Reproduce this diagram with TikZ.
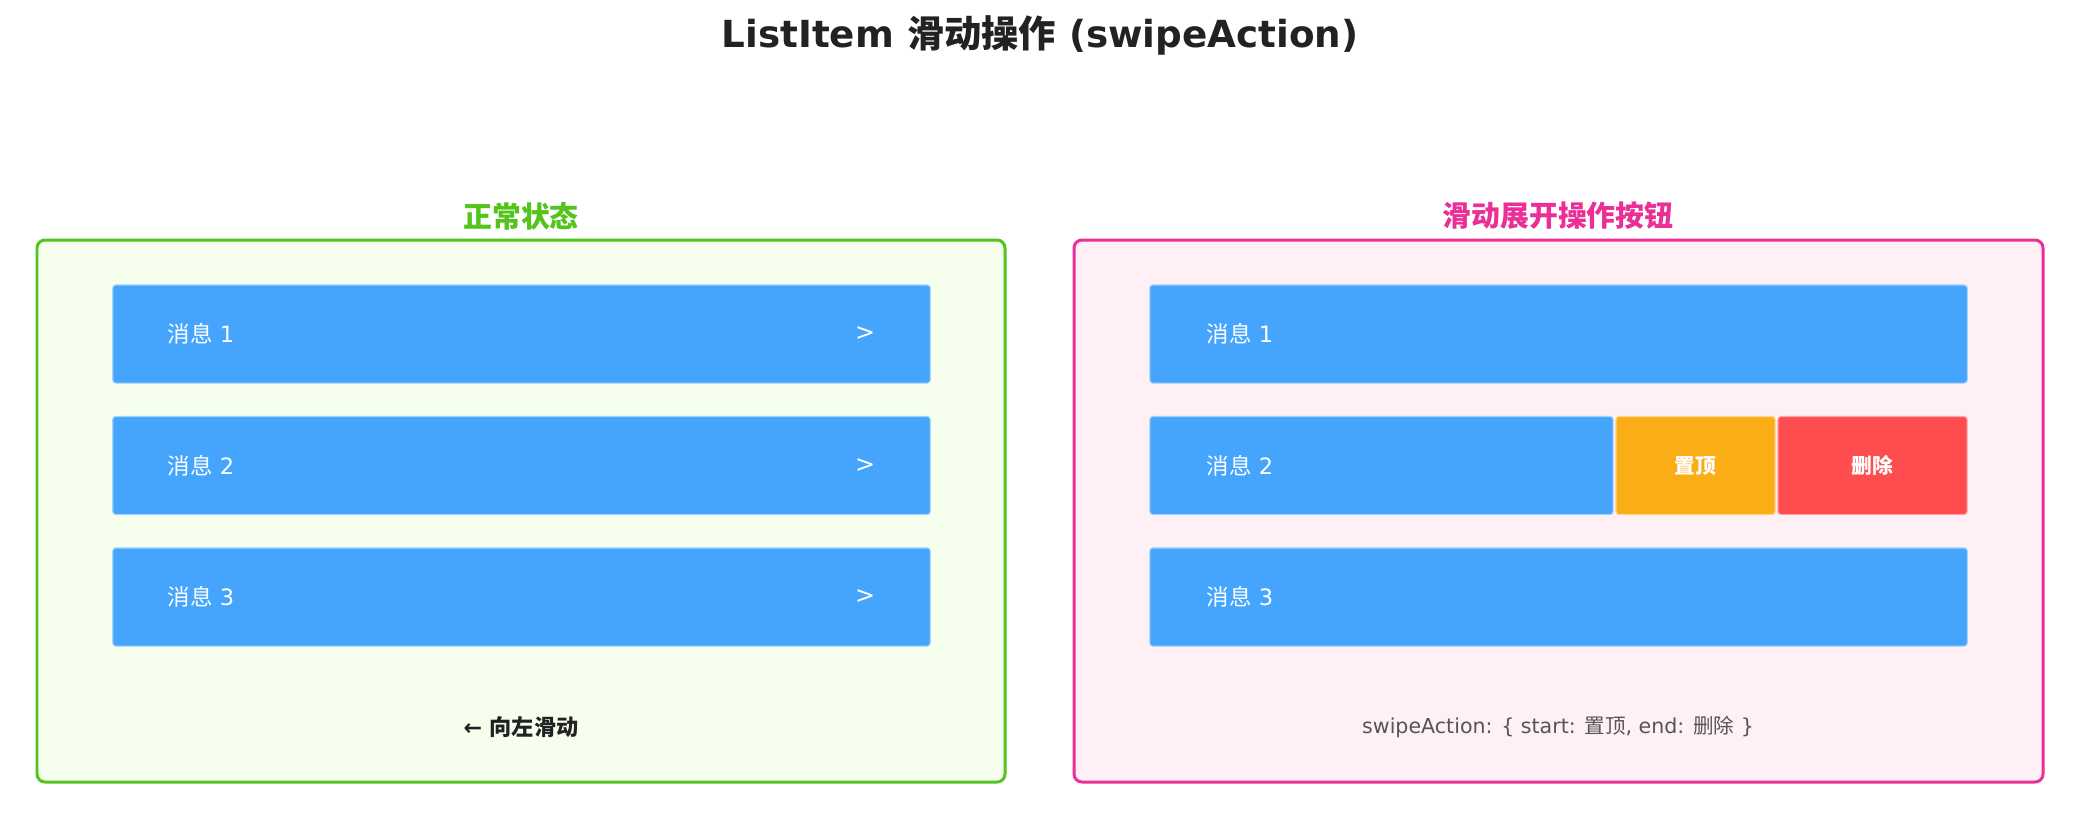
\documentclass[tikz,border=0pt]{standalone}
\usepackage{fontspec}
\setmainfont{DejaVu Sans}
\newfontfamily\cjk{Noto Sans CJK SC}
\definecolor{titlegray}{HTML}{222222}
\definecolor{notegray}{HTML}{555555}
\definecolor{okgreen}{HTML}{52C41A}
\definecolor{okfill}{HTML}{F6FFED}
\definecolor{swpink}{HTML}{EB2F96}
\definecolor{swfill}{HTML}{FFF0F6}
\definecolor{rowblue}{HTML}{45A5FC}
\definecolor{topyellow}{HTML}{FAAD14}
\definecolor{delred}{HTML}{FF4D4F}

\begin{document}
\begin{tikzpicture}[x=0.01cm,y=-0.01cm,
  panel/.style={rounded corners=0.08cm,line width=0.85pt},
  row/.style={rectangle,rounded corners=0.03cm,fill=rowblue,draw=rowblue!50!white,
    line width=0.3pt,minimum height=0.98cm,inner sep=0pt},
  rowtext/.style={text=white,font=\fontsize{6.4}{7}\selectfont,anchor=west,inner sep=0pt},
  btntext/.style={text=white,font=\cjk\bfseries\fontsize{5.9}{7}\selectfont,inner sep=0pt}]
  \useasboundingbox (0,0) rectangle (2080,820);
  \fill[white] (0,0) rectangle (2080,820);

  % title
  \node[text=titlegray,font=\bfseries\fontsize{10.6}{12}\selectfont] (title) at (1040,35)
    {ListItem {\cjk 滑动操作} (swipeAction)};

  % left panel: normal state
  \draw[panel,draw=okgreen,fill=okfill] (37,240) rectangle (1005,782);
  \node[text=okgreen,font=\cjk\bfseries\fontsize{8.2}{10}\selectfont] (normtitle) at (521,216) {正常状态};
  \foreach \i/\y in {1/334,2/465.5,3/597} {
    \node[row,minimum width=8.17cm] (l\i) at (521.5,\y) {};
    \node[rowtext] (l\i t) at (167,\y) {{\cjk 消息} \i};
    \node[text=white,font=\fontsize{6.8}{7}\selectfont] (l\i a) at (865,\y) {>};
  }
  \node[text=titlegray,font=\bfseries\fontsize{6.3}{7}\selectfont] (swipehint) at (521,727)
    {← {\cjk 向左滑动}};

  % right panel: swiped open
  \draw[panel,draw=swpink,fill=swfill] (1074,240) rectangle (2043,782);
  \node[text=swpink,font=\cjk\bfseries\fontsize{8.2}{10}\selectfont] (swtitle) at (1558,216) {滑动展开操作按钮};
  \node[row,minimum width=8.17cm] (r1) at (1558.5,334) {};
  \node[row,minimum width=4.63cm] (r2) at (1381.5,465.5) {};
  \node[row,minimum width=8.17cm] (r3) at (1558.5,597) {};
  \node[row,fill=topyellow,draw=topyellow!50!white,minimum width=1.59cm] (pin) at (1695.5,465.5) {};
  \node[row,fill=delred,draw=delred!50!white,minimum width=1.89cm] (del) at (1872.5,465.5) {};
  \foreach \i/\y in {1/334,2/465.5,3/597}
    \node[rowtext] (r\i t) at (1206,\y) {{\cjk 消息} \i};
  \node[btntext] (pint) at (pin) {置顶};
  \node[btntext] (delt) at (del) {删除};
  \node[text=notegray,font=\fontsize{5.85}{7}\selectfont] (swipecode) at (1558,727)
    {swipeAction: \{ start: {\cjk 置顶}, end: {\cjk 删除} \}};
\end{tikzpicture}
\end{document}
